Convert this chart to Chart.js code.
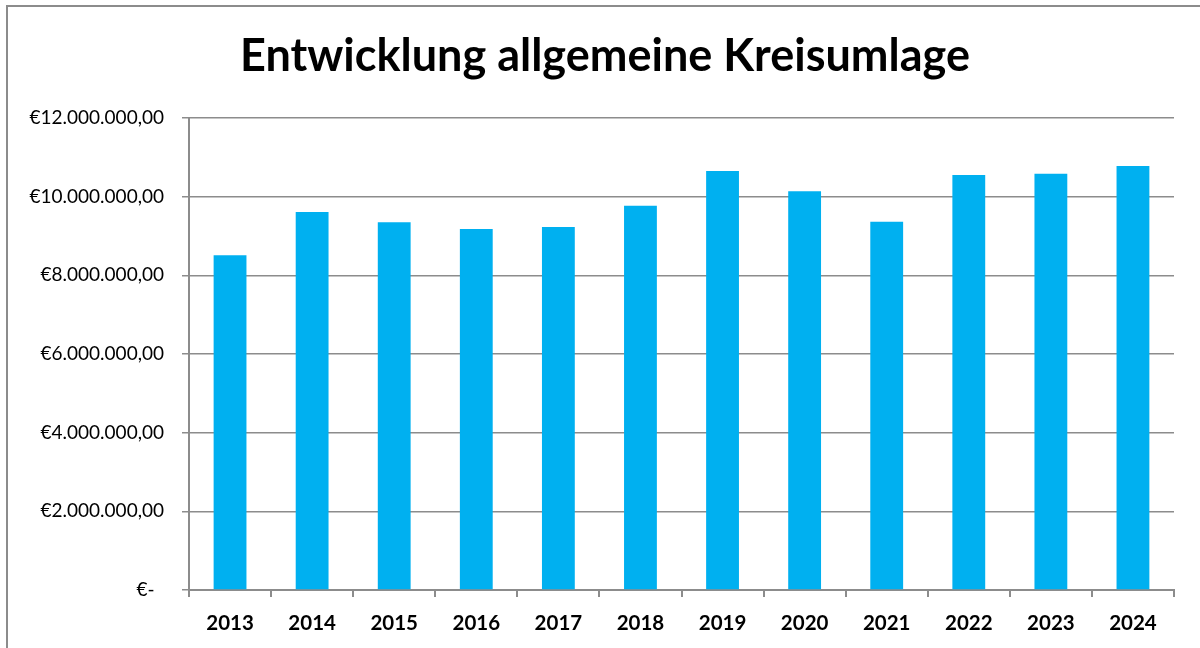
<!DOCTYPE html>
<html>
<head>
<meta charset="utf-8">
<script src="https://cdn.jsdelivr.net/npm/chart.js@4/dist/chart.umd.min.js"></script>
<style>
  body { margin: 0; background: #fff; }
  #wrap { position: relative; width: 1200px; height: 648px; }
</style>
</head>
<body>
<div id="wrap"><canvas id="chart" width="1200" height="648"></canvas></div>
<script>
// Jahre und Kreisumlage
const years = ['2013', '2014', '2015', '2016', '2017', '2018', '2019', '2020', '2021', '2022', '2023', '2024'];
const kreisumlage = [8510000, 9610000, 9350000, 9180000, 9230000, 9770000, 10650000, 10140000, 9360000, 10550000, 10580000, 10780000];
const yTicks = [0, 2000000, 4000000, 6000000, 8000000, 10000000, 12000000];
const title = 'Entwicklung allgemeine Kreisumlage';

const grey = '#8c8c8c';

// {{{ euro()
function euro(v)
{
  if (v == 0)
  {
    return '€-\u2002';
  }
  let s = Math.round(v).toString().replace(/\B(?=(\d{3})+(?!\d))/g, '.');
  return '€' + s + ',00';
}
// }}}

// Rahmen und Titel
const frame =
{
  id: 'frame',
  beforeDraw: (chart) =>
  {
    const ctx = chart.ctx;
    ctx.save();
    ctx.fillStyle = '#fff';
    ctx.fillRect(0, 0, chart.width, chart.height);
    ctx.strokeStyle = grey;
    ctx.lineWidth = 2;
    ctx.strokeRect(7, 6, 1300, 800);
    ctx.fillStyle = '#000';
    ctx.font = 'bold 45px Lato';
    ctx.textAlign = 'center';
    ctx.textBaseline = 'middle';
    ctx.fillText(title, 605, 56);
    ctx.restore();
  }
};

new Chart(document.getElementById('chart'),
{
  type: 'bar',
  data:
  {
    labels: years,
    datasets: [{data: kreisumlage, backgroundColor: '#00b0f0', barPercentage: 0.4, categoryPercentage: 1}]
  },
  options:
  {
    responsive: false,
    animation: false,
    layout: {padding: {left: 0, right: 26, top: 118, bottom: 0}},
    plugins:
    {
      legend: {display: false},
      tooltip: {enabled: false},
      title: {display: false}
    },
    scales:
    {
      x:
      {
        grid: {display: true, drawOnChartArea: false, color: grey, lineWidth: 2, tickLength: 7, offset: true},
        border: {color: grey, width: 2},
        ticks: {color: '#000', font: {family: 'Lato', size: 20.5, weight: 'bold'}, padding: 14},
        afterFit: (s) => { s.height = 58; }
      },
      y:
      {
        min: 0,
        max: 12000000,
        afterBuildTicks: (s) => { s.ticks = yTicks.map((v) => ({value: v})); },
        grid: {color: grey, lineWidth: 1.5, tickLength: 7},
        border: {color: grey, width: 2},
        ticks: {color: '#000', font: {family: 'Lato', size: 19}, padding: 18, callback: (v) => euro(v)},
        afterFit: (s) => { s.width = 189; }
      }
    }
  },
  plugins: [frame]
});
</script>
</body>
</html>
